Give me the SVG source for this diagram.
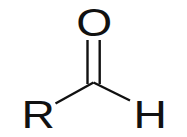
<svg xmlns="http://www.w3.org/2000/svg" width="187" height="137" viewBox="0 0 187 137">
<style>
.atom{font-family:"Liberation Sans",Arial,sans-serif;font-size:39.5px;fill:#111;text-anchor:middle}
.bond{stroke:#111;stroke-width:2.4;fill:none;stroke-linecap:butt}
</style>
<rect width="187" height="137" fill="#fff"/>
<g id="bonds">
<line class="bond" x1="87.5" y1="40" x2="87.5" y2="84"/>
<line class="bond" x1="99.7" y1="40" x2="99.7" y2="84"/>
<line class="bond" x1="93.5" y1="82.5" x2="55.5" y2="103.5"/>
<line class="bond" x1="93.5" y1="82.5" x2="130" y2="100.5"/>
</g>
<g id="O"><text class="atom" transform="translate(94.2,35.8) scale(1.17,1)">O</text></g>
<g id="R"><text class="atom" transform="translate(38.2,128.3) scale(1.17,1)">R</text></g>
<g id="H"><text class="atom" transform="translate(150.3,128.3) scale(1.17,1)">H</text></g>
</svg>
